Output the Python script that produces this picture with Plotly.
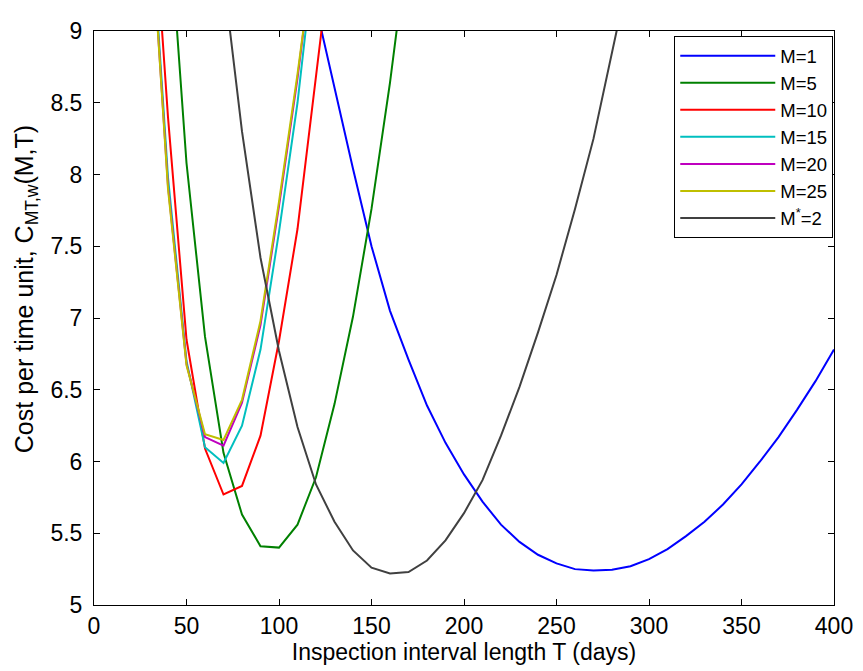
"""Cost per time unit vs inspection interval length"""
import plotly.graph_objects as go

# inspection interval T (days) and cost values per curve
t_m1 = list(range(120, 410, 10))
c_m1 = [9.17, 8.60, 8.04, 7.50, 7.05, 6.71, 6.39, 6.13, 5.91, 5.72,
        5.56, 5.44, 5.35, 5.29, 5.25, 5.24, 5.245, 5.27, 5.32, 5.39,
        5.48, 5.58, 5.70, 5.84, 6.00, 6.17, 6.36, 6.56, 6.78]

t_m5 = list(range(40, 180, 10))
c_m5 = [9.88, 8.08, 6.87, 6.06, 5.63, 5.41, 5.40, 5.56, 5.89, 6.40,
        7.01, 7.76, 8.64, 9.65]

t_m10 = list(range(30, 140, 10))
c_m10 = [10.27, 8.40, 6.85, 6.09, 5.77, 5.83, 6.18, 6.84, 7.62, 8.67, 9.75]

t_m15 = list(range(30, 130, 10))
c_m15 = [9.95, 7.98, 6.70, 6.10, 5.99, 6.25, 6.78, 7.60, 8.50, 9.64]

t_m20 = list(range(30, 130, 10))
c_m20 = [9.90, 7.92, 6.68, 6.17, 6.11, 6.41, 6.95, 7.78, 8.67, 9.70]

t_m25 = list(range(30, 130, 10))
c_m25 = [9.90, 7.90, 6.67, 6.19, 6.15, 6.43, 6.98, 7.81, 8.70, 9.67]

t_opt = list(range(70, 300, 10))
c_opt = [9.38, 8.30, 7.42, 6.77, 6.24, 5.84, 5.58, 5.38, 5.26, 5.22,
         5.23, 5.31, 5.45, 5.64, 5.87, 6.18, 6.52, 6.90, 7.30, 7.76,
         8.25, 8.85, 9.45]

x_ticks = [0, 50, 100, 150, 200, 250, 300, 350, 400]
y_ticks = [5, 5.5, 6, 6.5, 7, 7.5, 8, 8.5, 9]
y_ticktext = ["5", "5.5", "6", "6.5", "7", "7.5", "8", "8.5", "9"]

FONT = "Liberation Sans, Arial, sans-serif"

series = [
    ("M=1", t_m1, c_m1, "#0000ff"),
    ("M=5", t_m5, c_m5, "#008000"),
    ("M=10", t_m10, c_m10, "#ff0000"),
    ("M=15", t_m15, c_m15, "#00bfbf"),
    ("M=20", t_m20, c_m20, "#bf00bf"),
    ("M=25", t_m25, c_m25, "#bfbf00"),
    ("M<sup>*</sup>=2", t_opt, c_opt, "#404040"),
]

fig = go.Figure()
for name, t, c, color in series:
    fig.add_trace(go.Scatter(x=t, y=c, name=name, mode="lines",
                             line=dict(color=color, width=2)))

AXIS = dict(
    showline=True, linecolor="black", linewidth=1, mirror="allticks",
    ticks="inside", ticklen=6, tickcolor="black", showgrid=False,
    zeroline=False, ticklabeloverflow="allow",
    tickfont=dict(family=FONT, size=23, color="black"),
)

fig.update_xaxes(AXIS, range=[0, 400], tickvals=x_ticks,
                 title=dict(text="Inspection interval length T (days)",
                            font=dict(family=FONT, size=23, color="black"),
                            standoff=1))
fig.update_yaxes(AXIS, range=[5, 9], tickvals=y_ticks, ticktext=y_ticktext,
                 ticklabelstandoff=6)

fig.add_annotation(
    text="Cost per time unit, C<sub>MT,w</sub>(M,T)", textangle=-90,
    xref="paper", yref="paper", x=-0.092, y=0.55, xanchor="center",
    yanchor="middle", showarrow=False,
    font=dict(family=FONT, size=25, color="black"),
)

# page body adds an 8px offset, so the figure is 8px smaller and shifted back
fig.update_layout(
    width=855, height=663, plot_bgcolor="white", paper_bgcolor="white",
    margin=dict(l=86, r=23, t=10, b=66),
    legend=dict(x=0.999, y=0.991, xanchor="right", yanchor="top",
                bordercolor="black", borderwidth=1, bgcolor="white",
                font=dict(family=FONT, size=18.5, color="black"),
                itemwidth=95, tracegroupgap=0),
)

fig.write_html("out.html")
